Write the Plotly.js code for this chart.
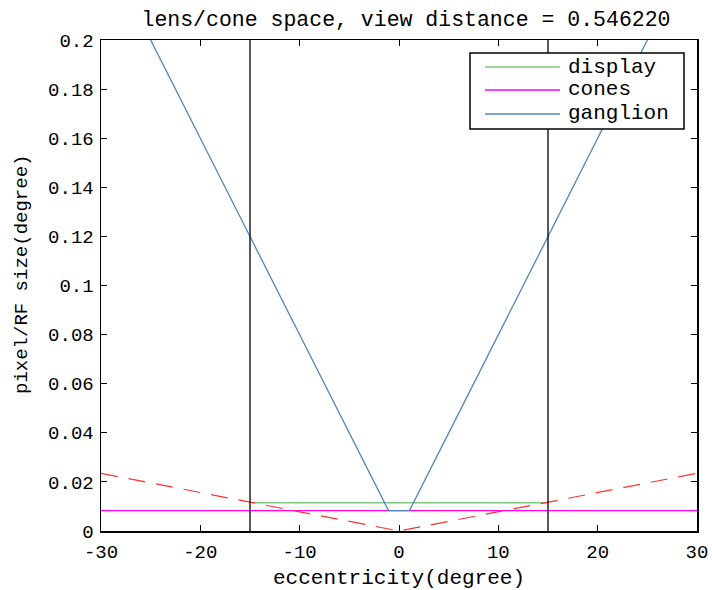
<!DOCTYPE html>
<html>
<head>
<meta charset="utf-8">
<script src="https://cdn.plot.ly/plotly-3.0.1.min.js"></script>
<style>html,body{margin:0;padding:0;background:#fff;}#chart{width:712px;height:590px;}</style>
</head>
<body>
<div id="chart"></div>
<script>
// eccentricity (degree) / size (degree)
const displayX = [-14.8, 14.8];
const displayY = [0.0115, 0.0115];
const conesX = [-30, 30];
const conesY = [0.0083, 0.0083];
const ganglionX = [-30, -1.05, 1.05, 30];
const ganglionY = [0.24, 0.0083, 0.0083, 0.24];
const lensX = [-30, 0, 30];
const lensY = [0.0235, 0.0, 0.0235];
const boundaryX = [-15, 15];
const yRange = [0, 0.2];
const xTicks = [-30, -20, -10, 0, 10, 20, 30];
const yTicks = [0, 0.02, 0.04, 0.06, 0.08, 0.1, 0.12, 0.14, 0.16, 0.18, 0.2];
const yTickText = ['0', '0.02', '0.04', '0.06', '0.08', '0.1', '0.12', '0.14', '0.16', '0.18', '0.2'];
const legendNames = ['display', 'cones', 'ganglion'];
const legendColors = ['rgb(125,200,125)', 'rgb(255,0,255)', 'rgb(80,135,190)'];

const FONT = 'Liberation Mono, Courier New, monospace';

// plot-area geometry helpers (pixel -> paper)
const PL = 101, PR = 697, PT = 40, PB = 531;
const px = v => (v - PL) / (PR - PL);
const py = v => (PB - v) / (PB - PT);

const traces = [
  {x: displayX, y: displayY, mode: 'lines', name: legendNames[0], showlegend: false, line: {color: legendColors[0], width: 1.3}},
  {x: conesX, y: conesY, mode: 'lines', name: legendNames[1], showlegend: false, line: {color: legendColors[1], width: 1.3}},
  {x: ganglionX, y: ganglionY, mode: 'lines', name: legendNames[2], showlegend: false, line: {color: legendColors[2], width: 1.3}},
  {x: lensX, y: lensY, mode: 'lines', name: 'lens', showlegend: false, line: {color: 'rgb(255,50,50)', width: 1.2, dash: '17px,11px'}},
  {x: [boundaryX[0], boundaryX[0]], y: yRange, mode: 'lines', showlegend: false, line: {color: '#000', width: 1.3}},
  {x: [boundaryX[1], boundaryX[1]], y: yRange, mode: 'lines', showlegend: false, line: {color: '#000', width: 1.3}}
];

// legend box drawn as shapes + annotations (MATLAB style)
const legendRows = [67, 90, 114];
const shapes = [
  {type: 'rect', xref: 'paper', yref: 'paper', x0: px(470), x1: px(684), y0: py(53), y1: py(129),
   line: {color: '#000', width: 1.5}, fillcolor: '#fff', layer: 'above'}
];
const annotations = [
  {text: 'pixel/RF size(degree)', xref: 'paper', yref: 'paper', x: px(22), y: py(275), textangle: -90,
   showarrow: false, xanchor: 'center', yanchor: 'middle', font: {family: FONT, size: 19, color: '#000'}}
];
legendNames.forEach((n, i) => {
  shapes.push({type: 'line', xref: 'paper', yref: 'paper', x0: px(485), x1: px(560), y0: py(legendRows[i]), y1: py(legendRows[i]),
    line: {color: legendColors[i], width: 1.3}, layer: 'above'});
  annotations.push({text: n, xref: 'paper', yref: 'paper', x: px(566), y: py(legendRows[i]), showarrow: false,
    xanchor: 'left', yanchor: 'middle', font: {family: FONT, size: 21, color: '#000'}});
});

const layout = {
  width: 712, height: 590,
  margin: {l: PL, r: 712 - PR, t: PT, b: 590 - PB},
  paper_bgcolor: '#fff', plot_bgcolor: '#fff',
  font: {family: FONT, size: 19, color: '#000'},
  title: {text: 'lens/cone space, view distance = 0.546220', font: {family: FONT, size: 21.5, color: '#000'},
          x: px(406), xref: 'paper', xanchor: 'center', y: 1 - 18 / 590, yanchor: 'middle'},
  showlegend: false,
  shapes: shapes,
  annotations: annotations,
  xaxis: {
    range: [-30, 30], tickvals: xTicks, ticktext: xTicks.map(v => String(v)),
    ticks: 'inside', ticklen: 6, tickcolor: '#000', showline: true, linecolor: '#000', linewidth: 1.5,
    mirror: 'ticks', showgrid: false, zeroline: false, ticklabelstandoff: 3,
    title: {text: 'eccentricity(degree)', font: {family: FONT, size: 21, color: '#000'}, standoff: 6},
    tickfont: {family: FONT, size: 19, color: '#000'}
  },
  yaxis: {
    range: yRange, tickvals: yTicks, ticktext: yTickText,
    ticks: 'inside', ticklen: 6, tickcolor: '#000', showline: true, linecolor: '#000', linewidth: 1.5,
    mirror: 'ticks', showgrid: false, zeroline: false, ticklabelstandoff: 2,
    tickfont: {family: FONT, size: 19, color: '#000'}
  }
};

Plotly.newPlot('chart', traces, layout, {displayModeBar: false, staticPlot: true});
</script>
</body>
</html>
